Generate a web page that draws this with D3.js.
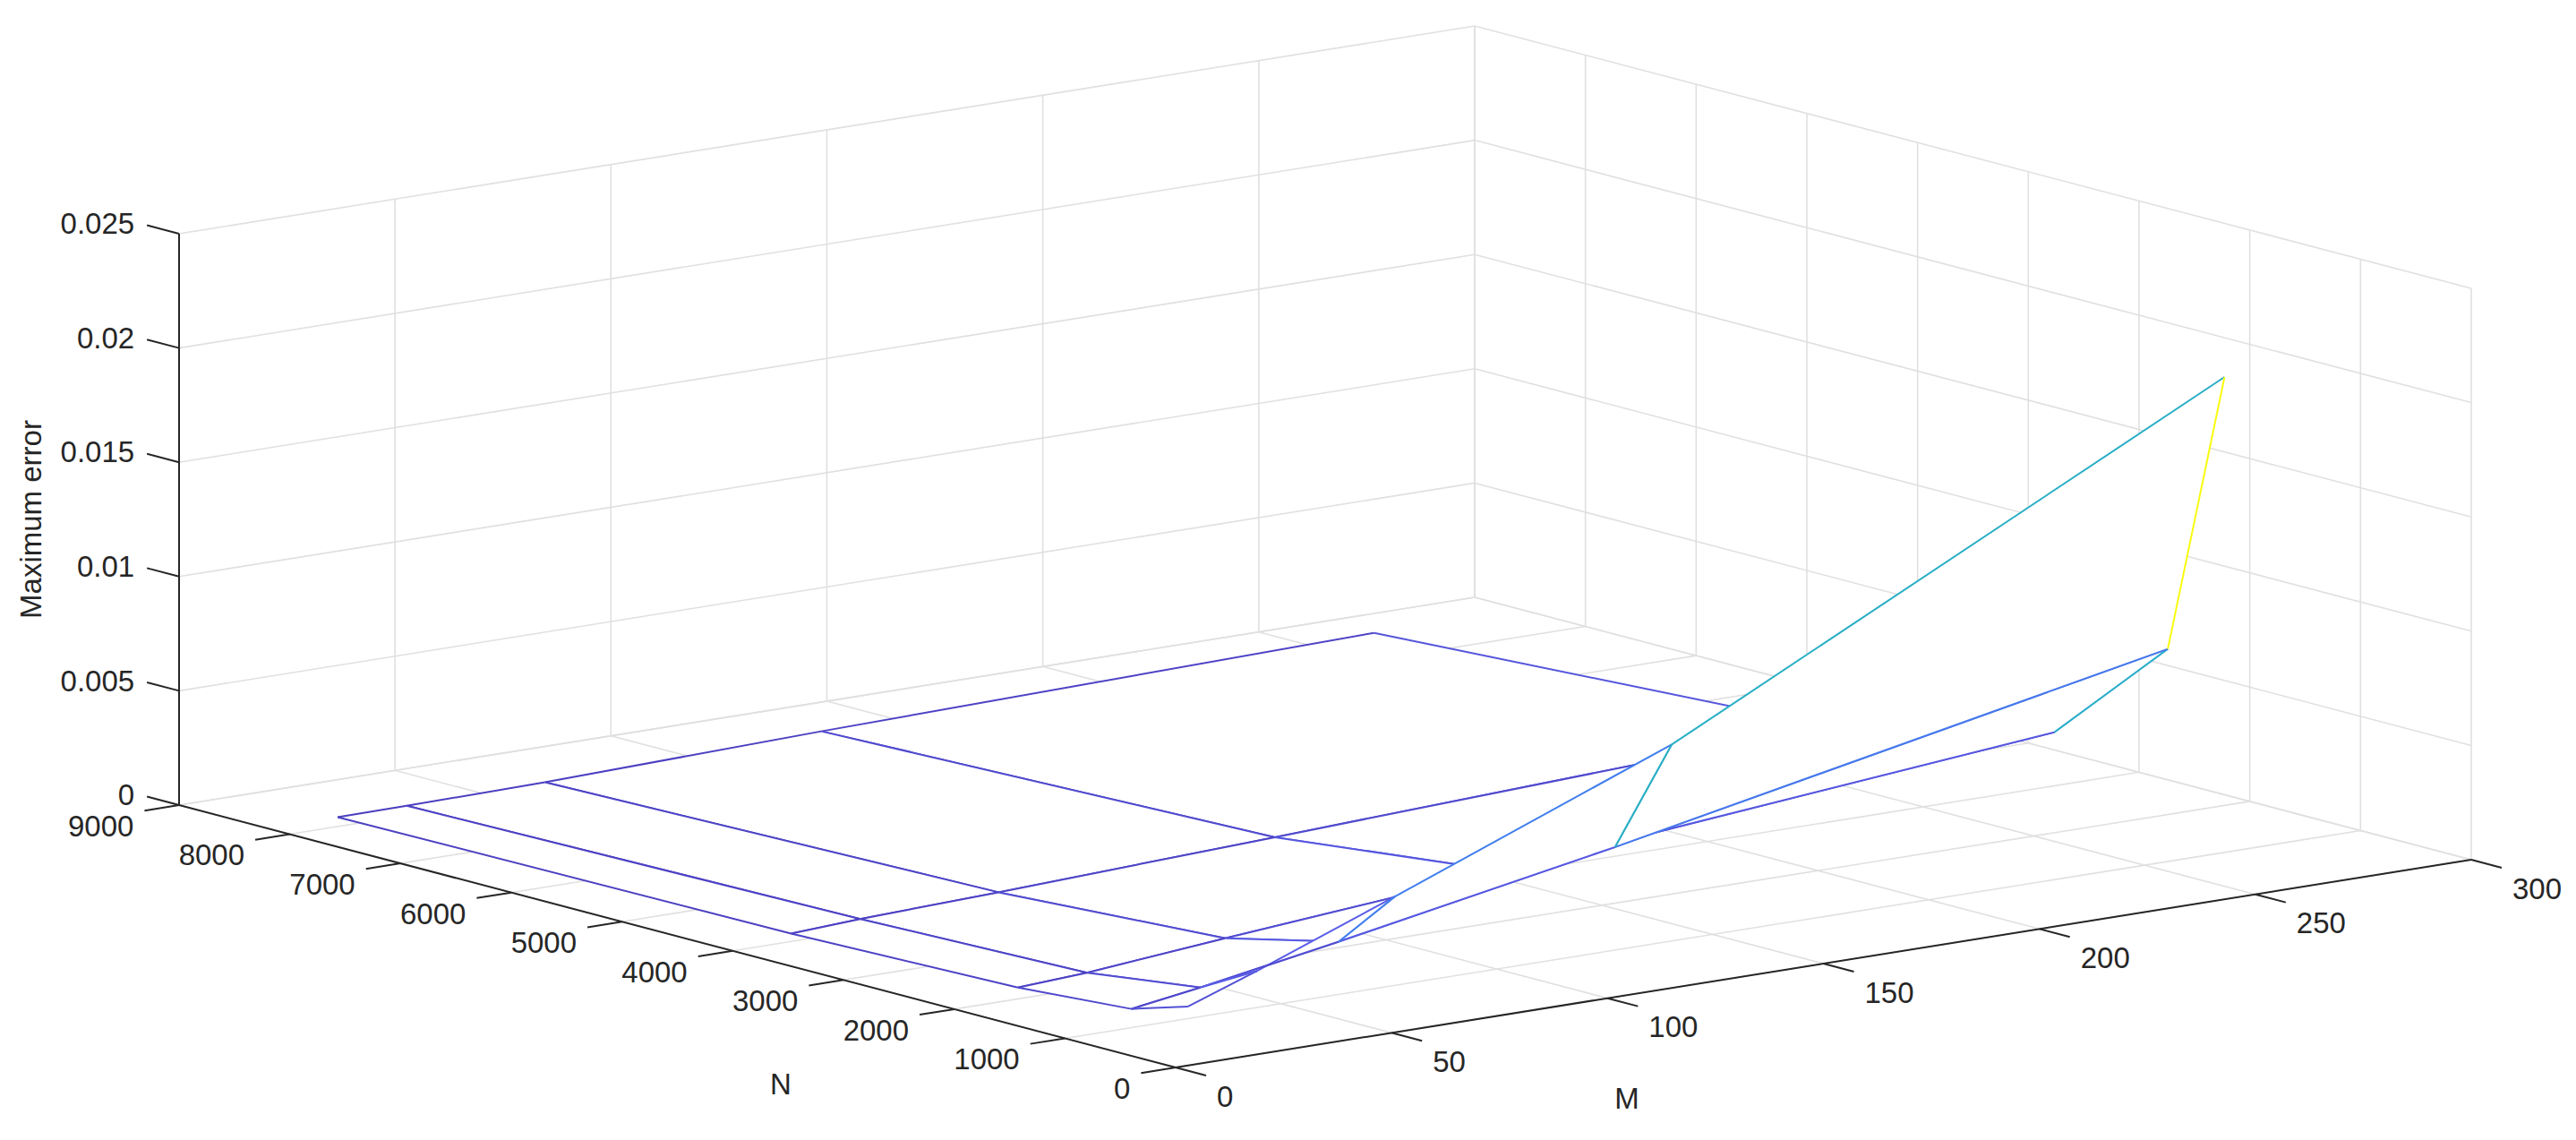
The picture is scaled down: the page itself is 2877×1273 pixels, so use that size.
<!DOCTYPE html>
<html><head><meta charset="utf-8">
<script src="https://cdn.jsdelivr.net/npm/d3@7"></script>
<style>body{margin:0;background:#fff}svg{display:block}text{font-family:"Liberation Sans",Arial,sans-serif;fill:#262626}</style>
</head><body>
<svg id="c" width="2877" height="1273"></svg>
<script>
// data
const Mvals = [16, 32, 64, 128, 256];
const Nvals = [512, 1024, 2048, 4096, 8192];
// rows follow Nvals, columns follow Mvals
const Zrow512  = [0.00153, 0.0026, 0.0049, 0.0096, 0.0218];
const Zrow1024 = [0.00077, 0.00122, 0.00226, 0.00446, 0.00925];
const Zrow2048 = [0.0004, 0.00056, 0.0011, 0.0021, 0.0043];
const Zrow4096 = [0.00015, 0.0003, 0.0005, 0.00097, 0.00195];
const Zrow8192 = [0.00002, 0.00003, 0.00009, 0.00038, 0.00081];
const Zrows = [Zrow512, Zrow1024, Zrow2048, Zrow4096, Zrow8192];
const Mticks = [0, 50, 100, 150, 200, 250, 300];
const Nticks = [0, 1000, 2000, 3000, 4000, 5000, 6000, 7000, 8000, 9000];
const Zticks = [0, 0.005, 0.01, 0.015, 0.02, 0.025];
const Zlabels = ["0", "0.005", "0.01", "0.015", "0.02", "0.025"];

const svg = d3.select("#c");
const origin = [1313, 1192];
const mx = d3.scaleLinear().domain([0, 300]).range([0, 1447]);
const my = d3.scaleLinear().domain([0, 300]).range([0, -232]);
const nx = d3.scaleLinear().domain([0, 9000]).range([0, -1113]);
const ny = d3.scaleLinear().domain([0, 9000]).range([0, -293]);
const zy = d3.scaleLinear().domain([0, 0.025]).range([0, -638]);
const P = (m, n, z) => [origin[0] + mx(m) + nx(n), origin[1] + my(m) + ny(n) + zy(z)];

const grid = svg.append("g").attr("stroke", "#e0e0e0").attr("stroke-width", 1.6).attr("fill", "none");
const line = d3.line();
Mticks.forEach(m => grid.append("path").attr("d", line([P(m, 0, 0), P(m, 9000, 0)])));
Nticks.forEach(n => grid.append("path").attr("d", line([P(0, n, 0), P(300, n, 0)])));
Mticks.forEach(m => grid.append("path").attr("d", line([P(m, 9000, 0), P(m, 9000, 0.025)])));
Zticks.forEach(z => grid.append("path").attr("d", line([P(0, 9000, z), P(300, 9000, z)])));
Nticks.forEach(n => grid.append("path").attr("d", line([P(300, n, 0), P(300, n, 0.025)])));
Zticks.forEach(z => grid.append("path").attr("d", line([P(300, 0, z), P(300, 9000, z)])));

const ax = svg.append("g").attr("stroke", "#262626").attr("stroke-width", 2).attr("fill", "none");
ax.append("path").attr("d", line([P(0, 0, 0), P(300, 0, 0)]));
ax.append("path").attr("d", line([P(0, 0, 0), P(0, 9000, 0)]));
ax.append("path").attr("d", line([P(0, 9000, 0), P(0, 9000, 0.025)]));
const labs = svg.append("g").attr("font-size", 33);
Mticks.forEach(m => {
  const a = P(m, 0, 0), b = P(m, -275, 0);
  ax.append("path").attr("d", line([a, b]));
  labs.append("text").attr("x", b[0] + 12).attr("y", b[1] + 26).attr("dominant-baseline", "middle").text(m);
});
Nticks.forEach(n => {
  const a = P(0, n, 0), b = P(-8, n, 0);
  ax.append("path").attr("d", line([a, b]));
  labs.append("text").attr("x", b[0] - 12).attr("y", b[1] + 20).attr("text-anchor", "end").attr("dominant-baseline", "middle").text(n);
});
Zticks.forEach((z, i) => {
  const a = P(0, 9000, z), b = P(0, 9290, z);
  ax.append("path").attr("d", line([a, b]));
  labs.append("text").attr("x", b[0] - 14).attr("y", b[1] + 1).attr("text-anchor", "end").attr("dominant-baseline", "middle").text(Zlabels[i]);
});
labs.append("text").attr("x", 872).attr("y", 1213).attr("text-anchor", "middle").attr("dominant-baseline", "middle").text("N");
labs.append("text").attr("x", 1817).attr("y", 1229).attr("text-anchor", "middle").attr("dominant-baseline", "middle").text("M");
labs.append("text").attr("transform", "translate(37,580) rotate(-90)").attr("text-anchor", "middle").attr("dominant-baseline", "middle").text("Maximum error");

const parula = d3.scaleLinear()
  .domain([0, 0.125, 0.25, 0.375, 0.5, 0.625, 0.75, 0.875, 1])
  .range(["#4b3fc0", "#5a5fe8", "#3a86ee", "#25a6d8", "#2ab5b4", "#7bbe73", "#cfbb3c", "#fcc538", "#f9fb0e"]);
const zAll = Zrows.flat();
const cz = d3.scaleLinear().domain([d3.min(zAll), d3.max(zAll)]).range([0, 1]).clamp(true);
const col = z => parula(cz(z));

const quads = [];
for (let i = 0; i < Nvals.length - 1; i++)
  for (let j = 0; j < Mvals.length - 1; j++) {
    const ground = (my(Mvals[j]) + my(Mvals[j + 1])) / 2 + (ny(Nvals[i]) + ny(Nvals[i + 1])) / 2;
    quads.push({ i, j, depth: ground });
  }
quads.sort((a, b) => a.depth - b.depth);
const mesh = svg.append("g").attr("stroke-width", 2).attr("stroke-linejoin", "round");
const V = (i, j) => P(Mvals[j], Nvals[i], Zrows[i][j]);
quads.forEach(q => {
  const { i, j } = q;
  const g = mesh.append("g");
  g.append("path").attr("d", line([V(i, j), V(i, j + 1), V(i + 1, j + 1), V(i + 1, j)]) + "Z")
    .attr("fill", "#fff").attr("stroke", "none");
  const edges = [
    [[i, j], [i, j + 1], Zrows[i][j]],
    [[i + 1, j], [i + 1, j + 1], Zrows[i + 1][j]],
    [[i, j], [i + 1, j], Zrows[i][j]],
    [[i, j + 1], [i + 1, j + 1], Zrows[i][j + 1]]
  ];
  edges.forEach(e => g.append("path").attr("d", line([V(...e[0]), V(...e[1])]))
    .attr("fill", "none").attr("stroke", col(e[2])));
});
</script>
</body></html>
